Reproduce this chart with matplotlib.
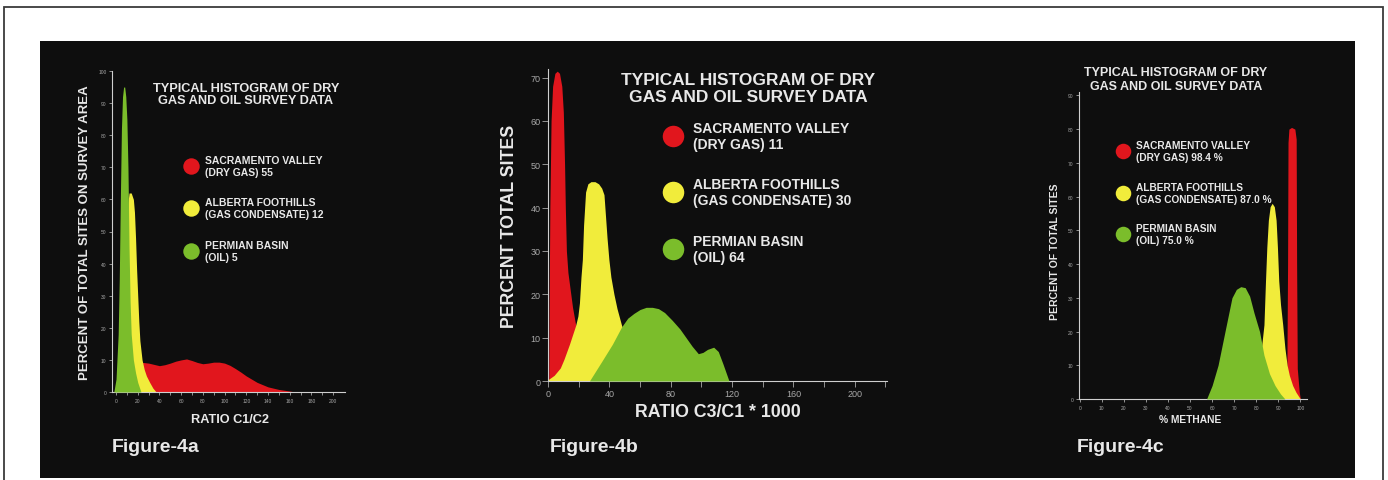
import matplotlib.pyplot as plt
from matplotlib.patches import Rectangle

plt.rcParams['font.family'] = ['Liberation Sans', 'DejaVu Sans']

W, H = 1388, 481

RED = "#e1161d"
YELLOW = "#f1ec3b"
GREEN = "#7bbd2b"
PANEL = "#0e0e0e"
TXT = "#e8e8e8"
TICK = "#a8a8a8"

# ---- Figure-4a : ratio C1/C2
a_red_x = [20, 22, 25, 30, 35, 40, 45, 50, 55, 60, 65, 70, 75, 80, 85, 90, 95, 100,
           105, 110, 115, 120, 125, 130, 140, 150, 160, 165]
a_red = [0, 9, 9.2, 9, 8.6, 8.2, 8.5, 9.0, 9.6, 10.0, 10.3, 9.8, 9.2, 8.8, 9.0, 9.3,
         9.3, 9.0, 8.3, 7.3, 6.2, 5.0, 4.0, 3.0, 1.6, 0.8, 0.3, 0]
a_yel_x = [4, 6, 8, 9, 10, 11, 12, 14, 16, 17, 18, 19, 20, 21, 22, 24, 26, 28, 31, 34, 37]
a_yel = [0, 5, 18, 35, 52, 59, 62, 62, 60, 56, 48, 38, 30, 22, 16, 10, 7, 5, 3, 1.2, 0]
a_grn_x = [-2, 0, 2, 3, 4, 5, 6, 7, 8, 9, 10, 11, 12, 13, 14, 16, 18, 20, 23]
a_grn = [0, 4, 18, 35, 60, 82, 92, 95, 95, 92, 85, 70, 45, 28, 18, 10, 6, 3, 0]
a_labels = ["SACRAMENTO VALLEY\n(DRY GAS) 55",
            "ALBERTA FOOTHILLS\n(GAS CONDENSATE) 12",
            "PERMIAN BASIN\n(OIL) 5"]

# ---- Figure-4b : ratio C3/C1 * 1000
b_red_x = [0.5, 0.8, 1.2, 2, 3, 4.5, 6, 7.5, 9, 10, 10.8, 11.3, 12, 13, 14.5, 16, 18,
           20, 23, 26, 30, 35]
b_red = [0, 20, 40, 60, 68, 71, 71.5, 71, 68, 62, 50, 40, 30, 25, 21, 17, 13, 10.5,
         7.5, 5, 3, 1]
b_yel_x = [0, 4, 8, 10.4, 14, 18, 19.5, 20.5, 21.5, 22.4, 23.2, 24.5, 26, 28, 30.6, 33,
           35, 36.5, 37.5, 38.5, 39.7, 41, 43, 45, 48, 52, 56, 60, 65, 70]
b_yel = [0.3, 1.3, 3, 5, 8.5, 12.8, 15, 18, 24, 28, 36, 43.6, 45.5, 46, 46, 45.5, 44.5,
         43, 38, 33, 28, 24, 20, 16.7, 12.8, 9.5, 6.5, 4, 2, 0]
b_grn_x = [27, 35, 42, 48, 52, 56, 60, 64, 68, 72, 76, 81, 86, 90, 94, 98, 101, 104,
           108, 111, 114, 118]
b_grn = [0, 4.5, 8.5, 12.5, 14.5, 15.6, 16.5, 17, 17, 16.7, 15.8, 14, 12, 10, 8, 6.3,
         6.6, 7.3, 7.8, 6.8, 4, 0]
b_labels = ["SACRAMENTO VALLEY\n(DRY GAS) 11",
            "ALBERTA FOOTHILLS\n(GAS CONDENSATE) 30",
            "PERMIAN BASIN\n(OIL) 64"]

# ---- Figure-4c : % methane
c_red_x = [93.8, 94.2, 94.4, 94.8, 96, 97.5, 98.1, 98.3, 98.6, 99.5, 100]
c_red = [0, 40, 76, 80, 80.5, 80, 77, 40, 9, 2, 0]
c_yel_x = [72, 76, 79, 81, 82.5, 83.5, 84.2, 84.8, 85.5, 86.3, 87.2, 88.2, 89, 89.6,
           90.2, 91, 92, 93, 94, 95, 96.5, 98, 99.5, 100]
c_yel = [0, 1, 4, 10, 16, 22, 35, 45, 53, 57, 58, 57, 53, 45, 35, 28, 22, 15, 10, 7,
         4, 2, 0.5, 0]
c_grn_x = [57.5, 60, 62.7, 66, 69, 71, 73, 75, 77, 79, 81.5, 83.5, 86, 88.5, 91, 93]
c_grn = [0, 4, 10, 20.5, 30, 32.5, 33.3, 33, 30.5, 25.5, 20, 13, 7.5, 4, 1.5, 0]
c_labels = ["SACRAMENTO VALLEY\n(DRY GAS) 98.4 %",
            "ALBERTA FOOTHILLS\n(GAS CONDENSATE) 87.0 %",
            "PERMIAN BASIN\n(OIL) 75.0 %"]

TITLE = "TYPICAL HISTOGRAM OF DRY\nGAS AND OIL SURVEY DATA"


def add_axes_px(left, top, right, bottom):
    return fig.add_axes([left / W, 1 - bottom / H, (right - left) / W, (bottom - top) / H])


def style(ax, size, length):
    ax.set_facecolor("none")
    for s in ["top", "right"]:
        ax.spines[s].set_visible(False)
    for s in ["left", "bottom"]:
        ax.spines[s].set_color("#cfcfcf")
        ax.spines[s].set_linewidth(0.8)
    ax.tick_params(which="both", colors=TICK, labelsize=size, length=length,
                   width=0.6, pad=1.5)


def draw(ax, curves):
    for i, (x, y, c) in enumerate(curves):
        ax.fill_between(x, y, color=c, lw=0, zorder=i + 1)


fig = plt.figure(figsize=(W / 100, H / 100), dpi=100)
fig.patch.set_facecolor("white")
fig.add_artist(Rectangle((4 / W, -0.05), 1379 / W, 1 - 8 / H + 0.05, transform=fig.transFigure,
                         fill=False, ec="#3a3a3a", lw=1.3, zorder=-3))
fig.add_artist(Rectangle((40 / W, 2 / H), 1315 / W, 437 / H, transform=fig.transFigure,
                         fc=PANEL, ec="none", zorder=-2))

# panel a
ax1 = add_axes_px(112, 72, 345, 393)
draw(ax1, [(a_red_x, a_red, RED), (a_yel_x, a_yel, YELLOW), (a_grn_x, a_grn, GREEN)])
ax1.set_xlim(-3.7, 211)
ax1.set_ylim(0, 100)
ax1.set_xticks(range(0, 201, 20))
ax1.set_xticks(range(10, 201, 20), minor=True)
ax1.set_yticks(range(0, 101, 10))
style(ax1, 3.5, 2.5)

# panel b
ax2 = add_axes_px(548, 70, 887, 382)
draw(ax2, [(b_red_x, b_red, RED), (b_yel_x, b_yel, YELLOW), (b_grn_x, b_grn, GREEN)])
ax2.set_xlim(0, 221)
ax2.set_ylim(0, 72)
ax2.set_xticks(range(0, 201, 40))
ax2.set_xticks(range(20, 221, 40), minor=True)
ax2.set_yticks(range(0, 71, 10))
style(ax2, 6.5, 4)

# panel c
ax3 = add_axes_px(1079, 93, 1307, 400)
draw(ax3, [(c_red_x, c_red, RED), (c_yel_x, c_yel, YELLOW), (c_grn_x, c_grn, GREEN)])
ax3.set_xlim(-0.3, 103)
ax3.set_ylim(0, 91)
ax3.set_xticks(range(0, 101, 10))
ax3.set_yticks(range(0, 91, 10))
style(ax3, 3.5, 2.5)

# overlay in pixel coordinates for titles, legends and labels
ov = fig.add_axes([0, 0, 1, 1])
ov.set_xlim(0, W)
ov.set_ylim(H, 0)
ov.axis("off")
ov.set_zorder(5)

colors = [RED, YELLOW, GREEN]
panels = [
    # title xy, title size, title spacing, circle x, circle ys, circle size,
    # text x, text size, text spacing, labels
    ((246, 95), 9.2, 1.1, 191, [167, 209, 252], 140, 205, 7.5, 1.18, a_labels),
    ((748, 89), 12.5, 1.1, 673, [137, 193, 250], 240, 693, 10, 1.2, b_labels),
    ((1176, 80), 9, 1.12, 1123, [152, 194, 235], 125, 1136, 7.3, 1.25, c_labels),
]
for (tx, ty), tsize, tsp, cx, cys, cs, lx, lsize, lsp, labels in panels:
    ov.text(tx, ty, TITLE, color=TXT, fontsize=tsize, fontweight="bold",
            ha="center", va="center", linespacing=tsp)
    for cy, col, lab in zip(cys, colors, labels):
        ov.scatter([cx], [cy], s=cs, color=col, lw=0)
        ov.text(lx, cy, lab, color=TXT, fontsize=lsize, fontweight="bold",
                ha="left", va="center", linespacing=lsp)

ov.text(85, 233, "PERCENT OF TOTAL SITES ON SURVEY AREA", color=TXT, fontsize=9.5,
        fontweight="bold", rotation=90, ha="center", va="center")
ov.text(230, 420, "RATIO C1/C2", color=TXT, fontsize=9.2, fontweight="bold",
        ha="center", va="center")
ov.text(510, 226, "PERCENT TOTAL SITES", color=TXT, fontsize=12.8, fontweight="bold",
        rotation=90, ha="center", va="center")
ov.text(718, 413, "RATIO C3/C1 * 1000", color=TXT, fontsize=12.8, fontweight="bold",
        ha="center", va="center")
ov.text(1055, 252, "PERCENT OF TOTAL SITES", color=TXT, fontsize=7.5, fontweight="bold",
        rotation=90, ha="center", va="center")
ov.text(1190, 420, "% METHANE", color=TXT, fontsize=7.4, fontweight="bold",
        ha="center", va="center")

for x, name in [(112, "Figure-4a"), (550, "Figure-4b"), (1077, "Figure-4c")]:
    ov.text(x, 448, name, color=TXT, fontsize=14, fontweight="bold", ha="left", va="center")

fig.savefig("out.png", dpi=100)
